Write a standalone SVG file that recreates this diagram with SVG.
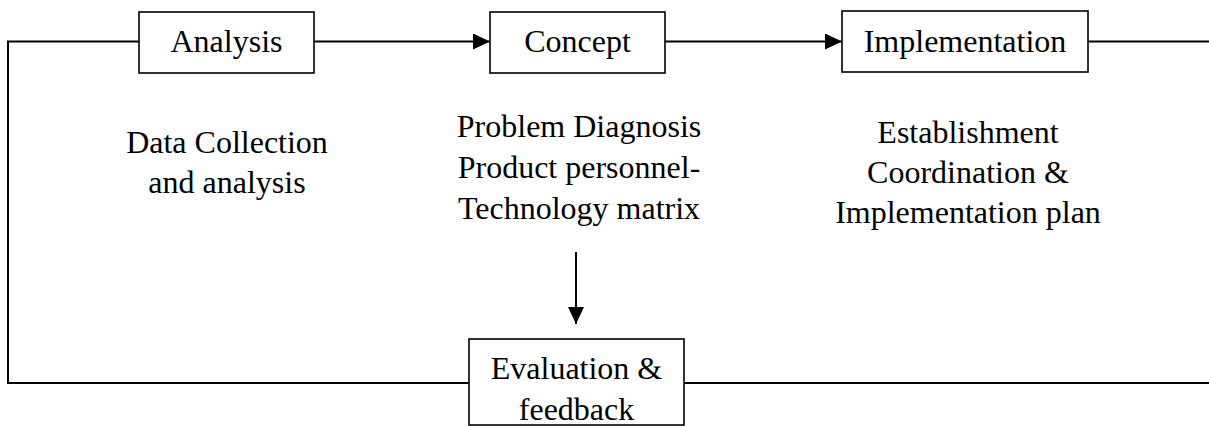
<svg xmlns="http://www.w3.org/2000/svg" width="1209" height="426" viewBox="0 0 1209 426">
<style>
.box{fill:#fff;stroke:#000;stroke-width:1.6}
.ln{fill:none;stroke:#000;stroke-width:2}
text{font-family:"Liberation Serif","Times New Roman",serif;font-size:32px;fill:#000;text-anchor:middle}
</style>
<defs>
<marker id="ah" markerUnits="userSpaceOnUse" markerWidth="17" markerHeight="16" refX="17" refY="8" orient="auto">
<path d="M0,0 L17,8 L0,16 Z" fill="#000"/>
</marker>
</defs>
<rect width="1209" height="426" fill="#fff"/>
<g id="connectors">
<path class="ln" d="M139,41.5 H8 V383 H469"/>
<path class="ln" d="M314,41.5 H490" marker-end="url(#ah)"/>
<path class="ln" d="M665,41.5 H842" marker-end="url(#ah)"/>
<path class="ln" d="M1088,41.5 H1209"/>
<path class="ln" d="M684,383 H1209"/>
<path class="ln" d="M576,252 V324" marker-end="url(#ah)"/>
</g>
<g id="analysis">
<rect class="box" x="139" y="12" width="175" height="61"/>
<text x="226.5" y="52">Analysis</text>
</g>
<g id="concept">
<rect class="box" x="490" y="12" width="175" height="61"/>
<text x="577.5" y="52">Concept</text>
</g>
<g id="implementation">
<rect class="box" x="842" y="11" width="246" height="61"/>
<text x="965" y="52">Implementation</text>
</g>
<g id="evaluation">
<rect class="box" x="469" y="339" width="215" height="86"/>
<text x="576.5" y="379">Evaluation &amp;</text>
<text x="576.5" y="420">feedback</text>
</g>
<g id="analysis-notes">
<text x="227" y="153">Data Collection</text>
<text x="227" y="193">and analysis</text>
</g>
<g id="concept-notes">
<text x="579" y="137">Problem Diagnosis</text>
<text x="579" y="178">Product personnel-</text>
<text x="579" y="219">Technology matrix</text>
</g>
<g id="implementation-notes">
<text x="968" y="143">Establishment</text>
<text x="968" y="183">Coordination &amp;</text>
<text x="968" y="223">Implementation plan</text>
</g>
</svg>
